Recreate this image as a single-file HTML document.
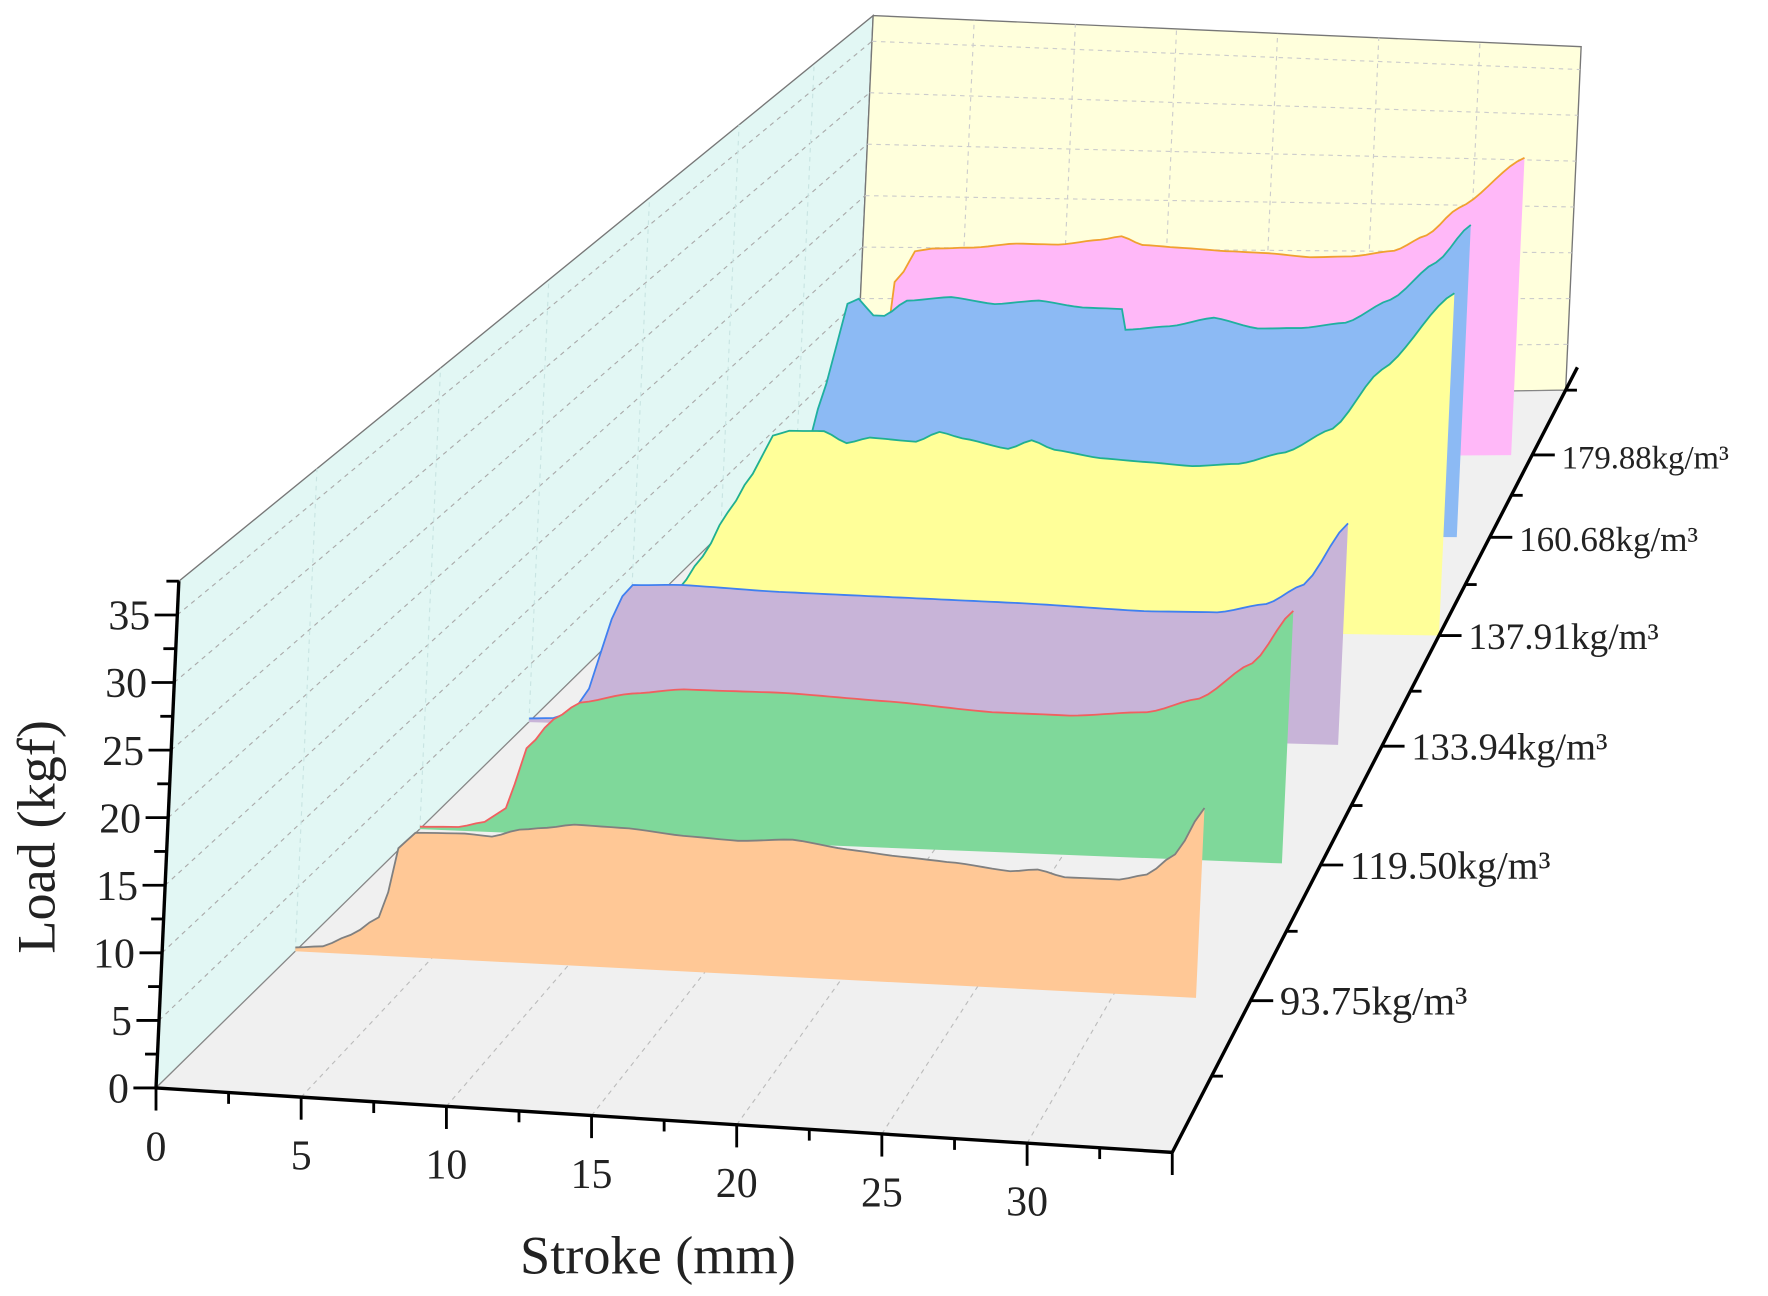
<!DOCTYPE html>
<html><head><meta charset="utf-8">
<style>html,body{margin:0;padding:0;background:#fff}svg{display:block}</style>
</head><body>
<svg id="s" xmlns="http://www.w3.org/2000/svg" width="1768" height="1296" viewBox="0 0 1564 1146" preserveAspectRatio="none" font-family="Liberation Serif, serif"></svg>
<script>
const S=document.getElementById('s');let out='';
function L(d){return [138+619*d,962-607*d];}
function R(d){return [1037+348*d,1019-674*d];}
function P(x,d,z){const l=L(d),r=R(d),t=x/35;const fx=l[0]+(r[0]-l[0])*t,fy=l[1]+(r[1]-l[1])*t;
 const h=(11.95-2.85*d)*(1-t)+(10.6-2.5*d)*t;return [fx+0.045*z*h,fy-z*h];}
function pts(a){return a.map(p=>p[0].toFixed(1)+','+p[1].toFixed(1)).join(' ');}
function poly(a,f,s,w,extra){out+=`<polygon points="${pts(a)}" fill="${f}" stroke="${s||'none'}" stroke-width="${w||1}" ${extra||''}/>`;}
function line(a,b,s,w,dash){out+=`<line x1="${a[0].toFixed(1)}" y1="${a[1].toFixed(1)}" x2="${b[0].toFixed(1)}" y2="${b[1].toFixed(1)}" stroke="${s}" stroke-width="${w}" ${dash?'stroke-dasharray="'+dash+'"':''}/>`;}
// smooth interpolation
function dense(p){const r=[];for(let i=0;i<p.length-1;i++){const a=p[i],b=p[i+1];const n=Math.max(1,Math.round((b[0]-a[0])*3));
 for(let k=0;k<n;k++){const t=k/n,s=t*t*(3-2*t);r.push([a[0]+(b[0]-a[0])*t,a[1]+(b[1]-a[1])*(0.5*t+0.5*s)]);}}r.push(p[p.length-1]);return r;}
const Z=37.5;
poly([P(0,0,0),P(0,1,0),P(0,1,Z),P(0,0,Z)],'#e2f7f4','#777',1.2);
poly([P(0,1,0),P(35,1,0),P(35,1,Z),P(0,1,Z)],'#ffffdc','#777',1.2);
poly([P(0,0,0),P(35,0,0),P(35,1,0),P(0,1,0)],'#f0f0f0','#888',1);
for(let z=5;z<=35;z+=5){line(P(0,0,z),P(0,1,z),'#aaa',1,'4,4');line(P(0,1,z),P(35,1,z),'#ccc',1,'4,4');}
for(let x=5;x<=30;x+=5){line(P(x,0,0),P(x,1,0),'#bbb',1,'4,4');line(P(x,1,0),P(x,1,Z),'#ccc',1,'4,4');}
const dv=[0.199,0.377,0.533,0.678,0.807,0.915];
for(const d of dv){line(P(0,d,0),P(0,d,Z),'#c8e4e2',1,'4,4');}
const S6=[
 {d:0.915,f:'#ffb8f8',s:'#f0a030',e:34,p:[[0,0],[3,2],[4,10],[4.3,17],[4.7,18],[5.2,20],[6,20.3],[8,20.5],[10,21],[12,21],[14,21.6],[15,22],[16,21.2],[18,21],[20,20.8],[22,20.7],[24,20.4],[26,20.6],[28,21.3],[29.5,23],[31,26],[34,31.5]]},
 {d:0.807,f:'#8cbaf4',s:'#20b0a0',e:33.5,p:[[0,0],[2,1],[3.5,6],[4.5,14],[5.3,21.5],[5.8,22],[6.5,20.5],[7,20.5],[8,22],[10,22.5],[12,22],[14,22.5],[16,22],[17.8,22],[18,20],[20,20.5],[22,21.5],[24,20.6],[26,20.8],[28,21.5],[30,24],[32,28],[33.5,32]]},
 {d:0.678,f:'#ffff99',s:'#20b090',e:35,p:[[0,0],[1.5,1],[2,3],[3,6],[4,10],[5,13.5],[5.8,17],[6.5,17.5],[8,17.6],[9,16.6],[10,17.2],[12,17],[13,18],[14,17.5],[16,16.7],[17,17.6],[18,16.8],[20,16.2],[22,16],[24,15.8],[26,16.2],[28,17.5],[30,20],[32,26],[35,34]]},
 {d:0.533,f:'#c8b4d8',s:'#4080f0',e:33.2,p:[[0,0.3],[1,0.4],[1.8,1],[2.4,3],[2.8,6],[3.2,9],[3.6,11],[4,12],[6,12.2],[10,12],[15,12],[20,12],[25,11.8],[28,12],[30,13],[31.5,15],[33.2,21]]},
 {d:0.377,f:'#7fd89a',s:'#f06060',e:33.5,p:[[0,0.2],[1.5,0.3],[2.5,0.8],[3.3,2],[3.6,4],[4,7],[5,9.5],[6,11],[8,12],[10,12.6],[14,12.8],[18,12.6],[22,12.2],[25,12.3],[28,13],[30,14.5],[32,18],[33.5,23]]},
 {d:0.199,f:'#ffc896',s:'#808080',e:33,p:[[0,0.3],[1,0.5],[2,1.5],[3,3],[3.3,5],[3.6,8.5],[4.2,9.8],[5,9.9],[6,10],[7,9.9],[8,10.6],[9,10.9],[10,11.3],[12,11.3],[14,11],[16,10.9],[18,11.3],[20,10.8],[22,10.5],[24,10.3],[26,9.9],[27,10.2],[28,9.7],[30,9.8],[31,10.4],[32,12.3],[33,16.5]]}
];
for(const s of S6){const top=dense(s.p).map(q=>P(q[0],s.d,q[1]));
 poly([P(0,s.d,0),...top,P(s.e,s.d,0)],s.f,'none');
 out+=`<polyline points="${pts(top)}" fill="none" stroke="${s.s}" stroke-width="1.6"/>`;}
line(P(0,0,0),P(0,0,Z),'#000',3);
for(let i=0;i<=15;i++){const z=i*2.5,a=P(0,0,z);line(a,[a[0]-(i%2?11:20),a[1]],'#000',2.5);
 if(i%2==0) out+=`<text x="${a[0]-24}" y="${a[1]+13}" font-size="37" text-anchor="end" fill="#222">${z}</text>`;}
line(P(0,0,0),P(35,0,0),'#000',3);
for(let i=0;i<=14;i++){const x=i*2.5,a=P(x,0,0);line(a,[a[0],a[1]+(i%2?10:20)],'#000',2.5);
 if(i%2==0&&x<=30) out+=`<text x="${a[0]}" y="${a[1]+64}" font-size="37" text-anchor="middle" fill="#222">${x}</text>`;}
line(R(0),R(1.03),'#000',3);
const ticks=[0.1,0.199,0.29,0.377,0.455,0.533,0.605,0.678,0.745,0.807,0.862,0.915,1.0];
for(const d of ticks){const a=R(d),maj=dv.includes(d);line(a,[a[0]+(maj?20:10),a[1]],'#000',2.5);}
const lab=['93.75','119.50','133.94','137.91','160.68','179.88'],fs=[36,35,34,33,31,29];
dv.forEach((d,i)=>{const a=R(d);out+=`<text x="${a[0]+26}" y="${a[1]+12}" font-size="${fs[i]}" fill="#222">${lab[i]}kg/m³</text>`;});
out+=`<text x="582" y="1126" font-size="48" text-anchor="middle" fill="#222">Stroke (mm)</text>`;
out+=`<text transform="translate(48,740) rotate(-90)" font-size="48" text-anchor="middle" fill="#222">Load (kgf)</text>`;
S.innerHTML=out;
</script>
</body></html>
